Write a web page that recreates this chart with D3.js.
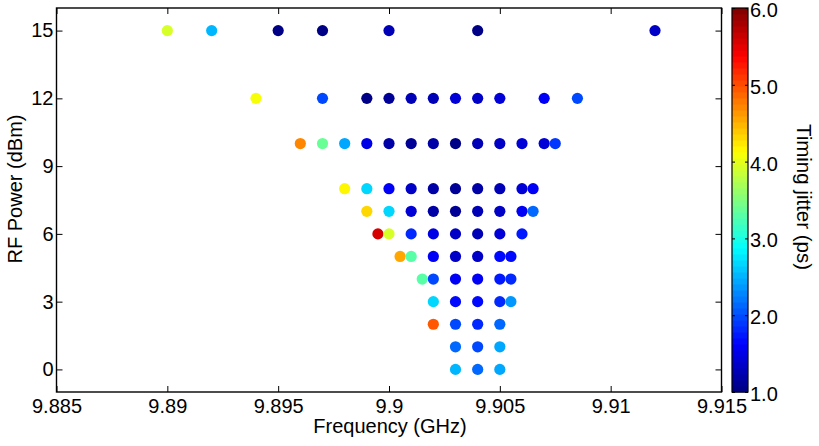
<!DOCTYPE html>
<html>
<head>
<meta charset="utf-8">
<script src="https://cdn.jsdelivr.net/npm/d3@7"></script>
<style>
  html, body { margin: 0; padding: 0; background: #fff; }
  svg { display: block; font-family: "Liberation Sans", Arial, sans-serif; }
</style>
</head>
<body>
<svg id="chart" width="819" height="446"></svg>
<script>
// Measured points: RF frequency (GHz), RF power (dBm), timing jitter (ps)
const freqGHz = [
  // 15 dBm
  9.890, 9.892, 9.895, 9.897, 9.900, 9.904, 9.912,
  // 12 dBm
  9.894, 9.897, 9.899, 9.900, 9.901, 9.902, 9.903, 9.904, 9.905, 9.907, 9.9085,
  // 10 dBm
  9.896, 9.897, 9.898, 9.899, 9.900, 9.901, 9.902, 9.903, 9.904, 9.905, 9.906, 9.907, 9.9075,
  // 8 dBm
  9.898, 9.899, 9.900, 9.901, 9.902, 9.903, 9.904, 9.905, 9.906, 9.9065,
  // 7 dBm
  9.899, 9.900, 9.901, 9.902, 9.903, 9.904, 9.905, 9.906, 9.9065,
  // 6 dBm
  9.8995, 9.900, 9.901, 9.902, 9.903, 9.904, 9.905, 9.906,
  // 5 dBm
  9.9005, 9.901, 9.902, 9.903, 9.904, 9.905, 9.9055,
  // 4 dBm
  9.9015, 9.902, 9.903, 9.904, 9.905, 9.9055,
  // 3 dBm
  9.902, 9.903, 9.904, 9.905, 9.9055,
  // 2 dBm
  9.902, 9.903, 9.904, 9.905,
  // 1 dBm
  9.903, 9.904, 9.905,
  // 0 dBm
  9.903, 9.904, 9.905
];
const powerDbm = [
  15, 15, 15, 15, 15, 15, 15,
  12, 12, 12, 12, 12, 12, 12, 12, 12, 12, 12,
  10, 10, 10, 10, 10, 10, 10, 10, 10, 10, 10, 10, 10,
  8, 8, 8, 8, 8, 8, 8, 8, 8, 8,
  7, 7, 7, 7, 7, 7, 7, 7, 7,
  6, 6, 6, 6, 6, 6, 6, 6,
  5, 5, 5, 5, 5, 5, 5,
  4, 4, 4, 4, 4, 4,
  3, 3, 3, 3, 3,
  2, 2, 2, 2,
  1, 1, 1,
  0, 0, 0
];
const jitterPs = [
  3.95, 2.5, 1.05, 1.05, 1.3, 1.05, 1.35,
  4.05, 1.95, 1.05, 1.15, 1.25, 1.3, 1.45, 1.35, 1.4, 1.6, 2.0,
  4.7, 3.35, 2.45, 1.5, 1.2, 1.1, 1.2, 1.05, 1.3, 1.35, 1.4, 1.45, 1.9,
  4.15, 2.7, 1.6, 1.35, 1.2, 1.1, 1.2, 1.25, 1.45, 1.55,
  4.3, 2.65, 1.45, 1.2, 1.1, 1.25, 1.35, 1.55, 2.1,
  5.55, 3.95, 1.8, 1.5, 1.35, 1.3, 1.4, 1.75,
  4.55, 3.27, 1.6, 1.35, 1.35, 1.65, 1.7,
  3.3, 2.0, 1.55, 1.6, 1.75, 1.8,
  2.65, 1.7, 1.65, 1.8, 2.35,
  4.95, 1.95, 1.8, 2.1,
  2.1, 2.0, 2.45,
  2.5, 2.1, 2.45
];

const xTicks = [9.885, 9.89, 9.895, 9.9, 9.905, 9.91, 9.915];
const yTicks = [0, 3, 6, 9, 12, 15];
const cTicks = [1, 2, 3, 4, 5, 6];

const xTitle = "Frequency (GHz)";
const yTitle = "RF Power (dBm)";
const cTitle = "Timing jitter (ps)";

const svg = d3.select("#chart");
const plot = { left: 56.5, right: 721.5, top: 8, bottom: 392 };
const bar = { left: 732, right: 748 };

const x = d3.scaleLinear().domain([9.885, 9.915]).range([plot.left, plot.right]);
const y = d3.scaleLinear().domain([-1, 16]).range([plot.bottom, plot.top]);

// MATLAB-style jet colour map with 64 discrete levels
const nLevels = 64;
function jetRGB(t) {
  const f = v => Math.max(0, Math.min(1, v));
  const r = f(Math.min(4 * t - 1.5, -4 * t + 4.5));
  const g = f(Math.min(4 * t - 0.5, -4 * t + 3.5));
  const b = f(Math.min(4 * t + 0.5, -4 * t + 2.5));
  return d3.rgb(r * 255, g * 255, b * 255).toString();
}
const jet = t => {
  const k = Math.min(nLevels - 1, Math.floor(t * nLevels));
  return jetRGB((k + 0.5) / nLevels);
};
const color = d3.scaleSequential(jet).domain([1, 6]).clamp(true);
const cScale = d3.scaleLinear().domain([1, 6]).range([plot.bottom, plot.top]);

const points = freqGHz.map((f, i) => ({ f, p: powerDbm[i], j: jitterPs[i] }));

// Scatter
svg.append("g")
  .selectAll("circle")
  .data(points)
  .join("circle")
  .attr("cx", d => x(d.f))
  .attr("cy", d => y(d.p))
  .attr("r", 5.6)
  .attr("fill", d => color(d.j));

// Axes with inward ticks on all four sides
const tickLen = 6;
const fontSize = "20px";
const axisStyle = g => {
  g.select(".domain").remove();
  g.selectAll(".tick line").attr("stroke", "#000").attr("stroke-width", 1);
  g.selectAll(".tick text").attr("fill", "#000").style("font-size", fontSize);
};

svg.append("g")
  .attr("transform", `translate(0,${plot.bottom})`)
  .call(d3.axisBottom(x).tickValues(xTicks).tickFormat(d3.format("")).tickSizeInner(-tickLen).tickSizeOuter(0).tickPadding(7))
  .call(axisStyle);

svg.append("g")
  .attr("transform", `translate(0,${plot.top})`)
  .call(d3.axisTop(x).tickValues(xTicks).tickFormat("").tickSizeInner(-tickLen).tickSizeOuter(0))
  .call(axisStyle);

svg.append("g")
  .attr("transform", `translate(${plot.left},0)`)
  .call(d3.axisLeft(y).tickValues(yTicks).tickSizeInner(-tickLen).tickSizeOuter(0).tickPadding(3))
  .call(axisStyle);

svg.append("g")
  .attr("transform", `translate(${plot.right},0)`)
  .call(d3.axisRight(y).tickValues(yTicks).tickFormat("").tickSizeInner(-tickLen).tickSizeOuter(0))
  .call(axisStyle);

// Plot frame
svg.append("rect")
  .attr("x", plot.left).attr("y", plot.top)
  .attr("width", plot.right - plot.left).attr("height", plot.bottom - plot.top)
  .attr("fill", "none").attr("stroke", "#000").attr("stroke-width", 1.4);

// Axis titles
svg.append("text")
  .attr("x", 390).attr("y", 433)
  .attr("text-anchor", "middle")
  .style("font-size", fontSize)
  .text(xTitle);

svg.append("text")
  .attr("transform", "translate(22,189) rotate(-90)")
  .attr("text-anchor", "middle")
  .style("font-size", fontSize)
  .text(yTitle);

// Colour bar
const levels = d3.range(nLevels);
const step = (6 - 1) / nLevels;
svg.append("g")
  .selectAll("rect")
  .data(levels)
  .join("rect")
  .attr("x", bar.left)
  .attr("width", bar.right - bar.left)
  .attr("y", k => cScale(1 + (k + 1) * step))
  .attr("height", k => cScale(1 + k * step) - cScale(1 + (k + 1) * step) + 0.5)
  .attr("fill", k => color(1 + (k + 0.5) * step));

svg.append("rect")
  .attr("x", bar.left).attr("y", plot.top)
  .attr("width", bar.right - bar.left).attr("height", plot.bottom - plot.top)
  .attr("fill", "none").attr("stroke", "#000").attr("stroke-width", 1.2);

svg.append("g")
  .attr("transform", `translate(${bar.right},0)`)
  .call(d3.axisRight(cScale).tickValues(cTicks).tickFormat(d3.format(".1f")).tickSizeInner(-4).tickSizeOuter(0).tickPadding(2))
  .call(g => {
    g.select(".domain").remove();
    g.selectAll(".tick line").attr("stroke", "#000").attr("stroke-dasharray", "3,1");
    g.selectAll(".tick text").attr("fill", "#000").attr("y", 2).style("font-size", fontSize);
  });

svg.append("g")
  .attr("transform", `translate(${bar.left},0)`)
  .call(d3.axisLeft(cScale).tickValues(cTicks).tickFormat("").tickSizeInner(-4).tickSizeOuter(0))
  .call(g => {
    g.select(".domain").remove();
    g.selectAll(".tick line").attr("stroke", "#000").attr("stroke-dasharray", "3,1");
  });

svg.append("text")
  .attr("transform", "translate(797,197) rotate(90)")
  .attr("text-anchor", "middle")
  .style("font-size", "20.5px")
  .text(cTitle);
</script>
</body>
</html>
